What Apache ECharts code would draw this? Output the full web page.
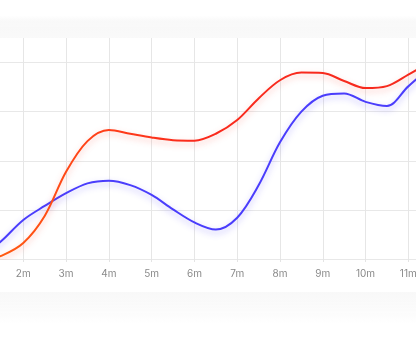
<!DOCTYPE html>
<html><head><meta charset="utf-8">
<script src="https://cdn.jsdelivr.net/npm/echarts@6/dist/echarts.min.js"></script>
<style>html,body{margin:0;padding:0;background:#fff;overflow:hidden;width:416px;height:340px;position:relative}
#c{position:absolute;left:-60px;top:0;width:560px;height:340px}</style>
</head><body><div id="c"></div>
<script>
// half-month sample positions and values
const months = [1, 1.5, 2, 2.5, 3, 3.5, 4, 4.5, 5, 5.5, 6, 6.5, 7, 7.5, 8, 8.5, 9, 9.5, 10, 10.5, 11, 11.5, 12];
const blueY = [0.0, 7.5, 15.9, 21.6, 26.8, 30.8, 31.9, 30.1, 26.1, 20.2, 14.9, 12.0, 16.8, 30.0, 47.5, 60.0, 66.5, 67.4, 64.0, 62.3, 70.3, 77.5, 82.0];
const redY  = [-1.0, 1.4, 6.5, 17.5, 35.5, 48.0, 52.5, 51.0, 49.5, 48.4, 48.2, 51.0, 56.6, 65.4, 72.8, 75.9, 75.7, 72.5, 69.6, 70.4, 75.1, 80.0, 84.0];
const monthMin = 1, monthMax = 12;

const chart = echarts.init(document.getElementById('c'), null, {renderer: 'canvas'});
const pair = (xs, ys) => xs.map((x, i) => [x, ys[i]]);
chart.setOption({
  animation: false,
  backgroundColor: 'transparent',
  graphic: [
    {type: 'rect', left: 0, top: 16, shape: {width: 560, height: 22}, silent: true, z: -10,
     style: {fill: new echarts.graphic.LinearGradient(0, 0, 0, 1, [{offset: 0, color: 'rgba(245,245,245,0)'}, {offset: 0.25, color: 'rgba(247,247,247,0.8)'}, {offset: 1, color: '#f9f9f9'}])}},
    {type: 'rect', left: 0, top: 292, shape: {width: 560, height: 32}, silent: true, z: -10,
     style: {fill: new echarts.graphic.LinearGradient(0, 0, 0, 1, [{offset: 0, color: '#f8f8f8'}, {offset: 0.6, color: 'rgba(249,249,249,0.6)'}, {offset: 1, color: 'rgba(250,250,250,0)'}])}}
  ],
  grid: {left: 40.5, right: 48.9, top: 38, bottom: 81},
  xAxis: {
    type: 'value', min: monthMin, max: monthMax, interval: 1,
    axisLine: {show: true, lineStyle: {color: '#e8e8e8', width: 1}},
    axisTick: {show: true, length: 3, lineStyle: {color: '#e4e4e4'}},
    axisLabel: {formatter: '{value}m', color: '#8a8a8a', fontSize: 10, margin: 10, fontFamily: 'Inter, Roboto, sans-serif'},
    splitLine: {show: true, lineStyle: {color: '#e6e6e6', width: 1}}
  },
  yAxis: {
    type: 'value', min: 0, max: 90, interval: 20,
    axisLine: {show: false}, axisTick: {show: false}, axisLabel: {show: false},
    splitLine: {show: true, showMaxLine: false, showMinLine: false, lineStyle: {color: '#e8e8e8', width: 1}}
  },
  series: [
    {type: 'line', data: pair(months, blueY), smooth: 0.33, showSymbol: false, z: 3,
     lineStyle: {color: '#4a3dfc', width: 2, shadowColor: 'rgba(74,61,252,0.35)', shadowBlur: 6, shadowOffsetY: 3}},
    {type: 'line', data: pair(months, redY), smooth: 0.33, showSymbol: false, z: 4,
     lineStyle: {width: 2, shadowColor: 'rgba(250,50,30,0.3)', shadowBlur: 6, shadowOffsetY: 3,
       color: new echarts.graphic.LinearGradient(0, 0, 1, 0, [{offset: 0, color: '#ff6010'}, {offset: 0.25, color: '#ff4018'}, {offset: 0.45, color: '#fa2a1c'}, {offset: 1, color: '#f52a1e'}])}}
  ]
});
</script></body></html>
